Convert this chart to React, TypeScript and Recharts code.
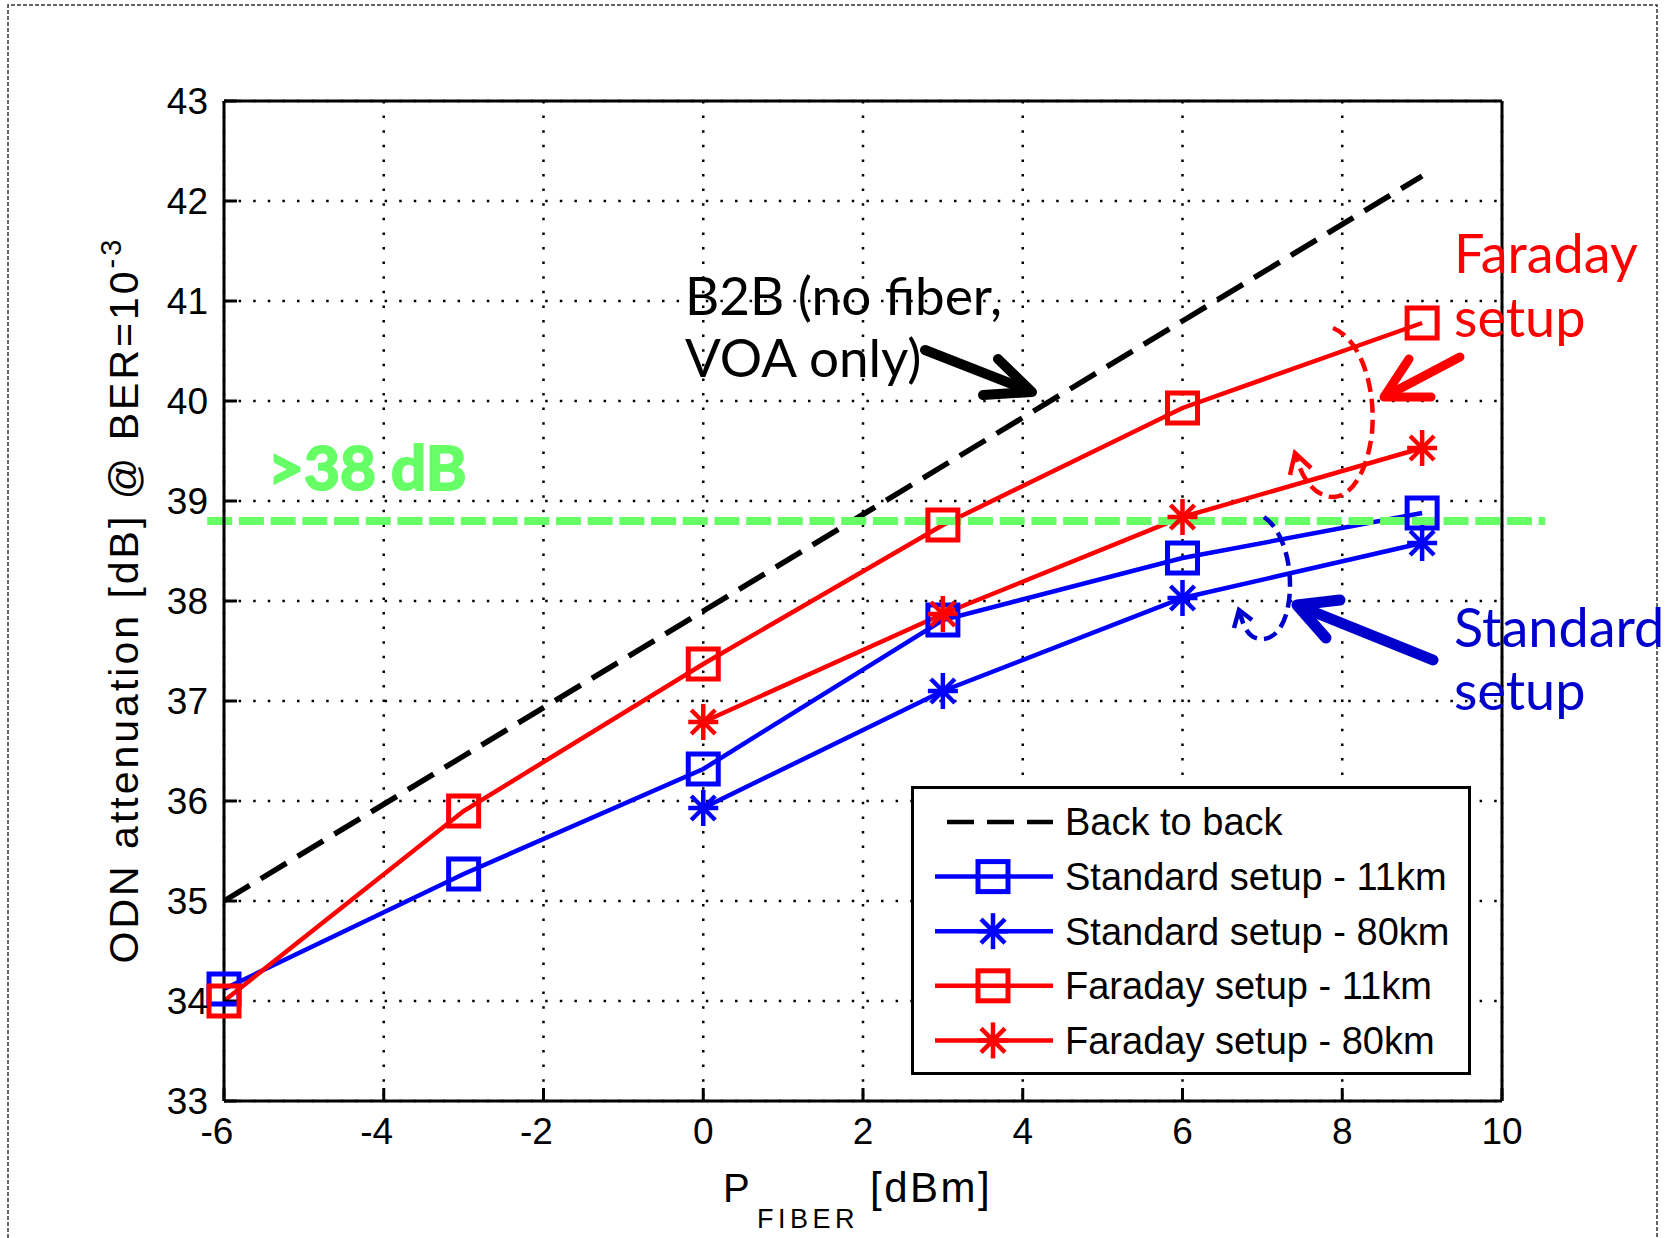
import React from "react";
import { LineChart, Line, XAxis, YAxis, CartesianGrid, ReferenceLine, Legend } from "recharts";

// P_FIBER [dBm]
const pFiber = [-6, -3, 0, 3, 6, 9];
// ODN attenuation [dB] @ BER=1e-3
const backToBack = [35.0, 36.45, 37.9, 39.35, 40.8, 42.25];
const standard11km = [34.12, 35.27, 36.32, 37.81, 38.43, 38.88];
const standard80km = [null, null, 35.93, 37.1, 38.03, 38.58];
const faraday11km = [34.0, 35.9, 37.37, 38.76, 39.93, 40.78];
const faraday80km = [null, null, 36.79, 37.87, 38.84, 39.53];

const xTicks = [-6, -4, -2, 0, 2, 4, 6, 8, 10];
const yTicks = [33, 34, 35, 36, 37, 38, 39, 40, 41, 42, 43];
const targetLevel = 38.8;
const targetSpan = [-6.21, 10.54];

type Marker = "none" | "square" | "star";

interface SeriesDef {
  key: string;
  name: string;
  values: (number | null)[];
  color: string;
  width: number;
  dash?: string;
  marker: Marker;
}

const series: SeriesDef[] = [
  { key: "b2b", name: "Back to back", values: backToBack, color: "#000000", width: 5.5, dash: "30 13", marker: "none" },
  { key: "std11", name: "Standard setup - 11km", values: standard11km, color: "#0000ff", width: 4.5, marker: "square" },
  { key: "std80", name: "Standard setup - 80km", values: standard80km, color: "#0000ff", width: 4.5, marker: "star" },
  { key: "far11", name: "Faraday setup - 11km", values: faraday11km, color: "#ff0000", width: 4.5, marker: "square" },
  { key: "far80", name: "Faraday setup - 80km", values: faraday80km, color: "#ff0000", width: 4.5, marker: "star" },
];

const TICK_FONT = "'Liberation Sans', Arial, sans-serif";
const NOTE_FONT = "Lato, 'Open Sans', sans-serif";
const GREEN = "#66ff66";
const DARK_BLUE = "#0000cc";

function toPoints(values: (number | null)[]) {
  return pFiber
    .map((x, i) => ({ x, y: values[i] }))
    .filter((d) => d.y !== null && d.y !== undefined);
}

function MarkerShape({ cx, cy, color, kind }: { cx: number; cy: number; color: string; kind: Marker }) {
  if (kind === "square") {
    return <rect x={cx - 15} y={cy - 15} width={30} height={30} fill="none" stroke={color} strokeWidth={5} />;
  }
  if (kind === "star") {
    return (
      <g stroke={color} strokeWidth={4.5}>
        <line x1={cx} y1={cy - 18} x2={cx} y2={cy + 18} />
        <line x1={cx - 15} y1={cy} x2={cx + 15} y2={cy} />
        <line x1={cx - 12} y1={cy - 12} x2={cx + 12} y2={cy + 12} />
        <line x1={cx - 12} y1={cy + 12} x2={cx + 12} y2={cy - 12} />
      </g>
    );
  }
  return null;
}

// eslint-disable-next-line @typescript-eslint/no-explicit-any
function XTick({ x, y, payload }: any) {
  const v = payload.value as number;
  return (
    <text x={x + (v < 0 ? -7 : 0)} y={y} dy="0.71em" textAnchor="middle" fontSize={37} fontFamily={TICK_FONT} fill="#000">
      {v}
    </text>
  );
}

// eslint-disable-next-line @typescript-eslint/no-explicit-any
function YTick({ x, y, payload }: any) {
  return (
    <text x={x} y={y} dy="0.355em" textAnchor="end" fontSize={37} fontFamily={TICK_FONT} fill="#000">
      {payload.value}
    </text>
  );
}

function NoLabel() {
  return <g />;
}

function LegendBox() {
  const rowY = (i: number) => 36 + i * 54.6;
  return (
    <svg width={560} height={289} style={{ display: "block" }}>
      <rect x={1.5} y={1.5} width={557} height={286} fill="#fff" stroke="#000" strokeWidth={3} />
      {series.map((s, i) => (
        <g key={s.key}>
          <line
            x1={s.dash ? 36 : 24}
            x2={142}
            y1={rowY(i)}
            y2={rowY(i)}
            stroke={s.color}
            strokeWidth={s.dash ? 4.5 : s.width}
            strokeDasharray={s.dash ? "27 13" : undefined}
          />
          <MarkerShape cx={82} cy={rowY(i)} color={s.color} kind={s.marker} />
          <text x={154} y={rowY(i)} dy="0.355em" fontSize={38} fontFamily={TICK_FONT} fill="#000">
            {s.name}
          </text>
        </g>
      ))}
    </svg>
  );
}

function Annotations() {
  return (
    <svg
      width={1667}
      height={1238}
      style={{ position: "absolute", left: 0, top: 0, pointerEvents: "none" }}
    >
      {/* figure border */}
      <path d="M8 1238 V5 H1657 V1238" fill="none" stroke="#333" strokeWidth={1.5} strokeDasharray="4 2" />

      {/* axis labels */}
      <text transform="translate(138 600) rotate(-90)" textAnchor="middle" fontSize={41} fontFamily={TICK_FONT} letterSpacing={3} fill="#000">
        ODN attenuation [dB] @ BER=10
        <tspan dy={-17} fontSize={29}>-3</tspan>
      </text>
      <text x={723} y={1202} fontSize={40} fontFamily={TICK_FONT} fill="#000">P</text>
      <text x={757} y={1228} fontSize={27} fontFamily={TICK_FONT} letterSpacing={4.5} fill="#000">FIBER</text>
      <text x={870} y={1202} fontSize={42} fontFamily={TICK_FONT} letterSpacing={2.5} fill="#000">[dBm]</text>

      {/* B2B note */}
      <text x={685} y={315} fontSize={53} fontFamily={NOTE_FONT} fill="#000">B2B (no fiber,</text>
      <text x={685} y={377} fontSize={53} fontFamily={NOTE_FONT} fill="#000">VOA only)</text>
      <g stroke="#000" strokeWidth={10} strokeLinecap="round" strokeLinejoin="round" fill="none">
        <line x1={925} y1={350} x2={1030} y2={391} />
        <polyline points="998,359 1032,392 983,395" />
      </g>

      {/* >38 dB */}
      <text x={268} y={490} fontSize={62} fontWeight={700} fontFamily={NOTE_FONT} fill={GREEN} stroke={GREEN} strokeWidth={2.2}>
        &gt;38 dB
      </text>

      {/* Faraday setup */}
      <text x={1454} y={273} fontSize={54} fontFamily={NOTE_FONT} fill="#ff0000">Faraday</text>
      <text x={1454} y={337} fontSize={54} fontFamily={NOTE_FONT} fill="#ff0000">setup</text>
      <g stroke="#ff0000" strokeWidth={9} strokeLinecap="round" strokeLinejoin="round" fill="none">
        <line x1={1460} y1={357} x2={1386} y2={396} />
        <polyline points="1409,359 1384,397 1431,397" />
      </g>
      <path
        d="M1333 328 C1362 340 1376 390 1372 432 C1368 470 1352 497 1333 497 C1316 497 1302 480 1296 456"
        fill="none"
        stroke="#ff0000"
        strokeWidth={4.5}
        strokeDasharray="14 7"
      />
      <polyline points="1290,475 1295,453 1311,468" fill="none" stroke="#ff0000" strokeWidth={4.5} />

      {/* Standard setup */}
      <text x={1454} y={647} fontSize={54} fontFamily={NOTE_FONT} fill={DARK_BLUE}>Standard</text>
      <text x={1454} y={710} fontSize={54} fontFamily={NOTE_FONT} fill={DARK_BLUE}>setup</text>
      <g stroke={DARK_BLUE} strokeWidth={11} strokeLinecap="round" strokeLinejoin="round" fill="none">
        <line x1={1433} y1={660} x2={1299} y2={606} />
        <polyline points="1340,600 1297,605 1326,638" />
      </g>
      <path
        d="M1264 517 C1280 528 1290 555 1290 585 C1290 615 1280 638 1263 639 C1250 640 1243 628 1240 612"
        fill="none"
        stroke={DARK_BLUE}
        strokeWidth={4.5}
        strokeDasharray="14 7"
      />
      <polyline points="1234,628 1239,610 1252,620" fill="none" stroke={DARK_BLUE} strokeWidth={4.5} />
    </svg>
  );
}

export default function App() {
  const axisStroke = { stroke: "#000", strokeWidth: 3 };
  return (
    <div style={{ position: "absolute", left: 0, top: 0, width: 1667, height: 1238, background: "#fff" }}>
      <LineChart width={1667} height={1238} margin={{ top: 100, right: 164, bottom: 77, left: 144 }}>
        <CartesianGrid stroke="#000" strokeWidth={2.5} strokeDasharray="2.5 12.1" />
        <XAxis
          dataKey="x"
          type="number"
          domain={[-6, 10]}
          ticks={xTicks}
          interval={0}
          height={60}
          tickSize={-13}
          tickMargin={30}
          axisLine={axisStroke}
          tickLine={axisStroke}
          tick={<XTick />}
        />
        <XAxis
          xAxisId="top"
          orientation="top"
          type="number"
          domain={[-6, 10]}
          ticks={xTicks}
          interval={0}
          height={1}
          tickSize={-13}
          axisLine={axisStroke}
          tickLine={axisStroke}
          tick={<NoLabel />}
        />
        <YAxis
          type="number"
          domain={[33, 43]}
          ticks={yTicks}
          interval={0}
          width={80}
          tickSize={-13}
          tickMargin={29}
          axisLine={axisStroke}
          tickLine={axisStroke}
          tick={<YTick />}
        />
        <YAxis
          yAxisId="right"
          orientation="right"
          type="number"
          domain={[33, 43]}
          ticks={yTicks}
          interval={0}
          width={1}
          tickSize={-13}
          axisLine={axisStroke}
          tickLine={axisStroke}
          tick={<NoLabel />}
        />
        {series.map((s) => (
          <Line
            key={s.key}
            data={toPoints(s.values)}
            dataKey="y"
            name={s.name}
            type="linear"
            stroke={s.color}
            strokeWidth={s.width}
            strokeDasharray={s.dash}
            activeDot={false}
            isAnimationActive={false}
            // eslint-disable-next-line @typescript-eslint/no-explicit-any
            dot={(p: any) => (
              <MarkerShape key={`${s.key}-${p.index}`} cx={p.cx} cy={p.cy} color={s.color} kind={s.marker} />
            )}
          />
        ))}
        <ReferenceLine
          segment={[
            { x: targetSpan[0], y: targetLevel },
            { x: targetSpan[1], y: targetLevel },
          ]}
          stroke={GREEN}
          strokeWidth={8}
          strokeDasharray="25 6.7"
          ifOverflow="visible"
        />
        <Legend
          layout="horizontal"
          verticalAlign="middle"
          align="center"
          content={() => <LegendBox />}
          wrapperStyle={{ left: 911, top: 786, width: 560, height: 289 }}
        />
      </LineChart>
      <Annotations />
    </div>
  );
}
